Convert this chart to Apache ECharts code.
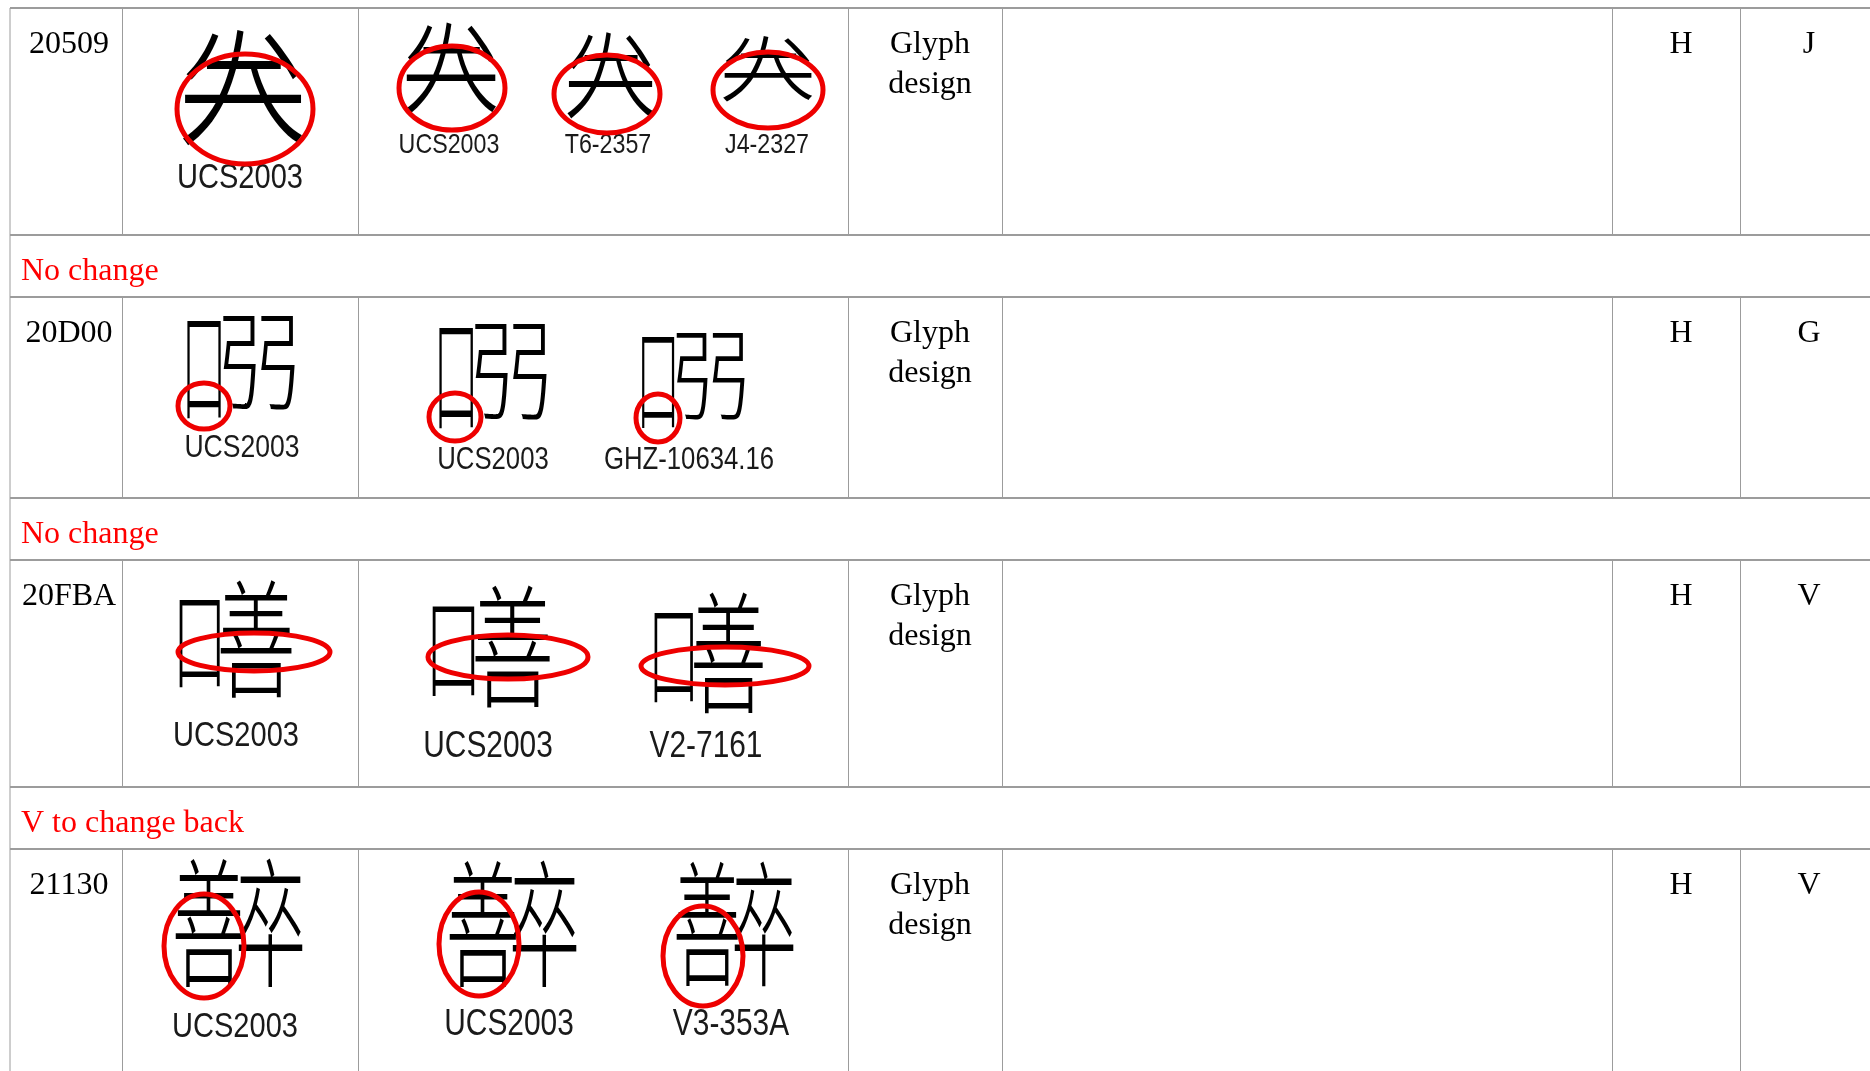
<!DOCTYPE html>
<html>
<head>
<meta charset="utf-8">
<script src="https://cdn.jsdelivr.net/npm/echarts@6/dist/echarts.min.js"></script>
<style>
  html, body { margin: 0; padding: 0; background: #ffffff; }
  #chart { width: 1870px; height: 1071px; }
</style>
</head>
<body>
<div id="chart"></div>
<script>
// ---- data ----
const codePoints = ['20509', '20D00', '20FBA', '21130'];
// component characters used to draw ideographs the installed fonts lack
const glyphComponents = [null, ['口', '弜'], ['口', '善'], ['善', '卒']];
const currentSources = ['UCS2003', 'UCS2003', 'UCS2003', 'UCS2003'];
const proposedSources = [
  ['UCS2003', 'T6-2357', 'J4-2327'],
  ['UCS2003', 'GHZ-10634.16'],
  ['UCS2003', 'V2-7161'],
  ['UCS2003', 'V3-353A']
];
const categories = ['Glyph design', 'Glyph design', 'Glyph design', 'Glyph design'];
const columnH = ['H', 'H', 'H', 'H'];
const columnLast = ['J', 'G', 'V', 'V'];
const notes = ['No change', 'No change', 'V to change back'];

// ---- layout (positions / sizes only) ----
const rowTops = [8, 297, 560, 849];
const rowBottoms = [235, 498, 787, 1075];
const colLines = [122, 358, 848, 1002, 1612, 1740];
const leftX = 10;
// ink box [x1,y1,x2,y2], label centre, label font, ellipse [cx,cy,rx,ry]
const curLayout = [
  { box: [184, 27, 302, 143], sy: 1.4, gy: 92, lx: 240, ly: 178, lf: 35, e: [245, 109, 68, 55] },
  { box: [181, 310, 296, 413], lx: 242, ly: 448, lf: 32, e: [204, 406, 26, 23] },
  { box: [178, 580, 291, 698], lx: 236, ly: 736, lf: 35, e: [254, 652, 76, 19] },
  { box: [176, 858, 302, 987], lx: 235, ly: 1027, lf: 35, e: [204, 946, 40, 52] }
];
const propLayout = [
  [
    { box: [406, 25, 496, 117], sy: 1.45, gy: 73, lx: 449, ly: 145, lf: 28, e: [452, 88, 53, 42] },
    { box: [568, 33, 653, 120], sy: 1.45, gy: 79, lx: 608, ly: 145, lf: 28, e: [607, 94, 53, 39] },
    { box: [724, 38, 812, 100], sy: 1.05, gy: 72, lx: 767, ly: 145, lf: 28, e: [768, 90, 55, 38] }
  ],
  [
    { box: [433, 318, 548, 423], lx: 493, ly: 460, lf: 31, e: [455, 417, 26, 24] },
    { box: [636, 327, 746, 423], lx: 689, ly: 460, lf: 31, e: [658, 418, 22, 24] }
  ],
  [
    { box: [431, 585, 549, 707], lx: 488, ly: 747, lf: 36, e: [508, 657, 80, 22] },
    { box: [653, 592, 762, 713], lx: 706, ly: 747, lf: 36, e: [725, 666, 84, 19] }
  ],
  [
    { box: [450, 860, 576, 987], lx: 509, ly: 1025, lf: 36, e: [479, 944, 40, 52] },
    { box: [677, 862, 793, 987], lx: 731, ly: 1025, lf: 36, e: [703, 956, 40, 50] }
  ]
];
// sub-boxes of each component, as fractions of the ink box
const componentBoxes = [
  null,
  [[0.06, 0.08, 0.34, 0.98], [0.36, 0.0, 1.0, 0.97]],
  [[0.02, 0.15, 0.36, 0.85], [0.38, 0.0, 1.0, 1.0]],
  [[0.0, 0.0, 0.52, 1.0], [0.5, 0.0, 1.0, 1.0]]
];
const inkRatio = { '口': [0.7, 0.74] }; // ink width / height as fraction of em
const defaultInk = [0.88, 0.92];

const SERIF = '"Liberation Serif", "Times New Roman", serif';
const SANS = '"Liberation Sans", Arial, sans-serif';
const CJK = '"Noto Sans CJK TC", "Noto Sans CJK SC", "Noto Sans CJK JP", "Noto Sans CJK KR", sans-serif';
const LINE = '#9c9c9c';
const RED = '#ee0000';

const els = [];
function hline(y, w) {
  els.push({ type: 'line', shape: { x1: leftX, y1: y, x2: 1870, y2: y }, style: { stroke: LINE, lineWidth: w || 2 }, silent: true });
}
function vline(x, y1, y2) {
  els.push({ type: 'line', shape: { x1: x + 0.5, y1: y1, x2: x + 0.5, y2: y2 }, style: { stroke: LINE, lineWidth: 1 }, silent: true });
}
function text(str, x, y, font, size, color, align, sx, sy, weight) {
  els.push({
    type: 'text', x: x, y: y, scaleX: sx || 1, scaleY: sy || 1, silent: true,
    style: { text: str, font: (weight || 'normal') + ' ' + size + 'px ' + font, fill: color || '#000', textAlign: align || 'center', textVerticalAlign: 'middle' }
  });
}
function ell(e) {
  els.push({ type: 'ellipse', shape: { cx: e[0], cy: e[1], rx: e[2], ry: e[3] }, style: { fill: null, stroke: RED, lineWidth: 5 }, silent: true, z: 10 });
}
function drawInBox(ch, x1, y1, x2, y2) {
  const ink = inkRatio[ch] || defaultInk;
  const w = x2 - x1, h = y2 - y1;
  const fs = h / ink[1];
  const sx = (w / ink[0]) / fs;
  text(ch, (x1 + x2) / 2, (y1 + y2) / 2, CJK, Math.round(fs), '#000', 'center', sx, 1, 300);
}
function glyph(i, g, label) {
  const b = g.box;
  const comps = glyphComponents[i];
  if (!comps) {
    const ch = String.fromCodePoint(parseInt(codePoints[i], 16));
    const fs = (b[2] - b[0]) / 0.9;
    text(ch, (b[0] + b[2]) / 2, g.gy, CJK, Math.round(fs), '#000', 'center', 1, g.sy || 1, 300);
  } else {
    const W = b[2] - b[0], H = b[3] - b[1];
    comps.forEach(function (ch, k) {
      const f = componentBoxes[i][k];
      drawInBox(ch, b[0] + f[0] * W, b[1] + f[1] * H, b[0] + f[2] * W, b[1] + f[3] * H);
    });
  }
  text(label, g.lx, g.ly, SANS, g.lf, '#1a1a1a', 'center', 0.83);
  ell(g.e);
}

// grid lines
hline(8);
codePoints.forEach(function (cp, i) {
  const top = rowTops[i], bot = rowBottoms[i];
  hline(bot);
  vline(leftX - 0.5, top, bot);
  colLines.forEach(function (x) { vline(x, top, bot); });
});
notes.forEach(function (n, i) {
  vline(leftX - 0.5, rowBottoms[i], rowTops[i + 1]);
  hline(rowTops[i + 1]);
  text(n, 21, rowBottoms[i] + 37, SERIF, 32, '#ff0000', 'left');
});

// cells
codePoints.forEach(function (cp, i) {
  const top = rowTops[i];
  text(cp, 69, top + 37, SERIF, 32);
  const parts = categories[i].split(' ');
  text(parts[0], 930, top + 37, SERIF, 32);
  text(parts[1], 930, top + 77, SERIF, 32);
  text(columnH[i], 1681, top + 37, SERIF, 32);
  text(columnLast[i], 1809, top + 37, SERIF, 32);
  glyph(i, curLayout[i], currentSources[i]);
  proposedSources[i].forEach(function (src, j) {
    glyph(i, propLayout[i][j], src);
  });
});

const chart = echarts.init(document.getElementById('chart'), null, { renderer: 'canvas' });
chart.setOption({
  backgroundColor: '#ffffff',
  animation: false,
  graphic: { elements: els }
});
</script>
</body>
</html>
